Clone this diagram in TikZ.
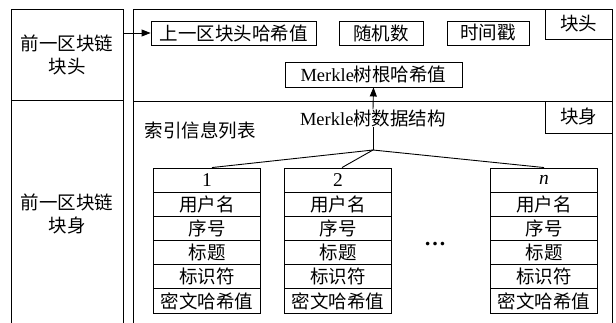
\documentclass[tikz,border=0pt]{standalone}
\usepackage{fontspec}
\setmainfont{Liberation Serif}
\newfontfamily\cjk{Noto Sans CJK SC}
\usetikzlibrary{arrows.meta}
\begin{document}
\begin{tikzpicture}[x=1pt,y=-1pt,
  every node/.style={font=\cjk\fontsize{18.5}{23}\selectfont, inner sep=0pt},
  frame/.style={line width=1pt},
  box/.style={draw, line width=0.9pt, minimum height=24pt},
  cell/.style={draw, line width=0.9pt, minimum width=107pt, minimum height=24.17pt},
  tag/.style={draw, line width=0.9pt, minimum width=67pt},
  arr/.style={-{Triangle[length=9pt,width=7pt]}, line width=0.9pt},
  link/.style={line width=0.9pt}]
\useasboundingbox (0,0) rectangle (616,322);
% outer frames (open at the bottom)
\draw[frame] (11,330) -- (11,9) -- (123,9) -- (123,330);
\draw[frame] (11,100) -- (123,100);
\draw[frame] (133,330) -- (133,9) -- (612,9) -- (612,330);
\draw[frame] (133,101) -- (612,101);
% left labels
\node[minimum width=112pt, minimum height=91pt, align=center] (lhead) at (67,55) {前一区块链\\块头};
\node[align=center] (lbody) at (67,213.5) {前一区块链\\块身};
% tags
\node[tag, minimum height=30pt] (thead) at (578.5,24) {块头};
\node[tag, minimum height=32pt] (tbody) at (578.5,117) {块身};
% header fields
\node[box, minimum width=165pt] (prev) at (233.5,33) {上一区块头哈希值};
\node[box, minimum width=84pt] (rand) at (381,33) {随机数};
\node[box, minimum width=82pt] (time) at (488,33) {时间戳};
\node[box, minimum width=177pt, minimum height=25pt] (root) at (373.5,74.5) {{\rmfamily Merkle}树根哈希值};
\draw[arr] (lhead.east |- prev) -- (prev.west);
% body
\node (idx) at (200,130) {索引信息列表};
\node (mds) at (373,118) {{\rmfamily Merkle}树数据结构};
\draw[arr] (mds.north) -- (root.south);
\coordinate (junc) at (373,150);
\draw[link] (mds.south) -- (junc);
\foreach \k/\cx/\hd in {1/207/{1}, 2/338/{2}, n/544/{\textit{n}}}{
  \node[cell] (t\k-0) at (\cx,180.08) {\rmfamily\fontsize{19.5}{23}\selectfont\hd};
  \foreach \i/\txt in {1/用户名,2/序号,3/标题,4/标识符,5/密文哈希值}{
    \node[cell] (t\k-\i) at (\cx,{180.08+\i*24.17}) {\txt};
  }
}
\draw[link] (junc) -- ([xshift=5pt]t1-0.north);
\draw[link] (junc) -- ([xshift=4pt]t2-0.north);
\draw[link] (junc) -- (tn-0.north);
\node[anchor=base] (dots) at (435,245) {\rmfamily\bfseries\fontsize{22}{22}\selectfont …};
\end{tikzpicture}
\end{document}
